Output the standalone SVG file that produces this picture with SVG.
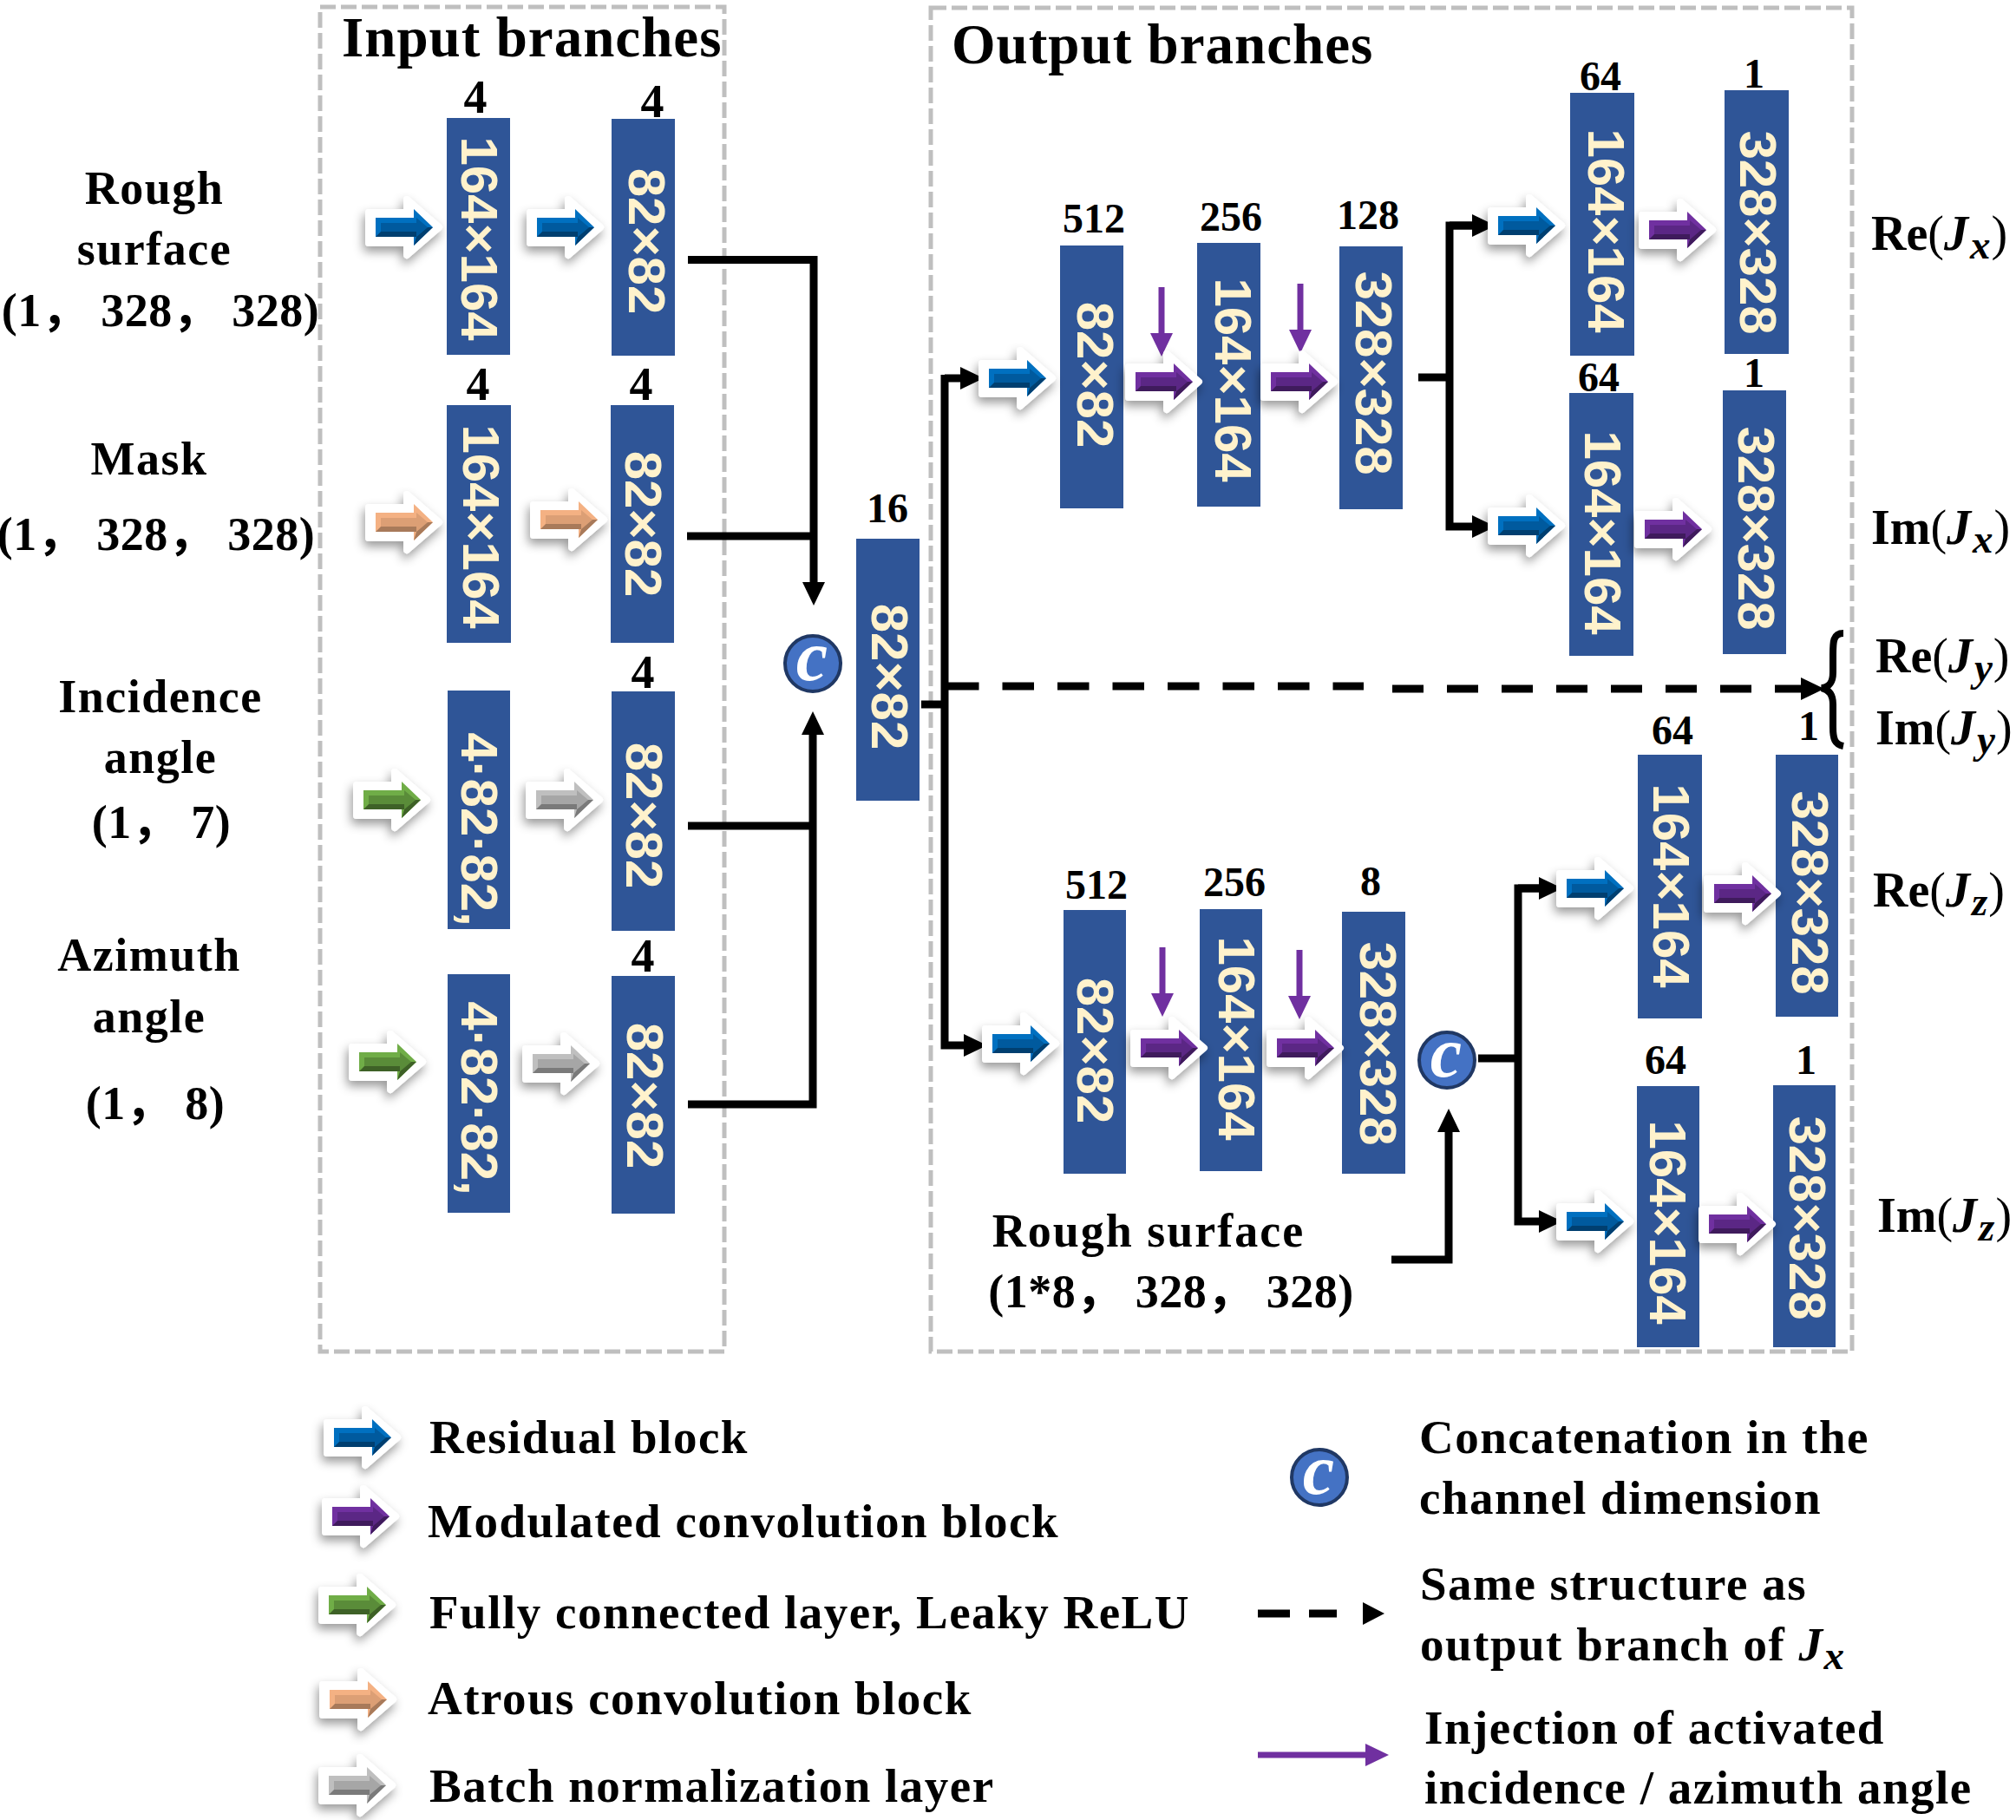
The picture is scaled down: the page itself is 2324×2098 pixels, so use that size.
<svg xmlns="http://www.w3.org/2000/svg" width="2324" height="2098" viewBox="0 0 2324 2098">
<style>
text{font-family:"Liberation Serif","Noto Sans CJK SC",serif;font-weight:700;fill:#000}
.h{font-size:65px;letter-spacing:1px}
.s{font-size:54px;letter-spacing:1.5px;text-anchor:middle}
.cj{font-size:54px;letter-spacing:.5px;text-anchor:middle}
.l{font-size:55px;letter-spacing:1.5px}
.n{font-size:54px;text-anchor:middle}
.m{font-size:48px;text-anchor:middle}
.o{font-size:56px}
.o .i{font-style:italic}
.o .p{font-weight:400}
.o .u{font-style:italic;font-size:47px}
.b{fill:#2f5597}
text.r{font-family:"Liberation Sans",sans-serif;font-size:60px;fill:#fff2cc;text-anchor:middle}
.box{fill:none;stroke:#bfbfbf;stroke-width:5;stroke-dasharray:18 6}
.k{fill:none;stroke:#000;stroke-width:9}
.v{fill:none;stroke:#7030a0;stroke-width:7}
.c{fill:#4472c4;stroke:#203864;stroke-width:4}
text.ct{font-size:82px;font-style:italic;fill:#fff;text-anchor:middle}
</style>
<defs>
<filter id="sh" x="-40%" y="-40%" width="180%" height="180%"><feDropShadow dx="-2" dy="6" stdDeviation="6" flood-color="#000" flood-opacity=".4"/></filter>
<marker id="ah" markerUnits="userSpaceOnUse" markerWidth="28" markerHeight="28" refX="0" refY="14" orient="auto"><path d="M0,1 L27,14 L0,27Z" fill="#000"/></marker>
<marker id="ap" markerUnits="userSpaceOnUse" markerWidth="28" markerHeight="28" refX="0" refY="14" orient="auto"><path d="M0,1 L27,14 L0,27Z" fill="#7030a0"/></marker>
<path id="ab" d="M-40,-17H4V-32L41,0L4,32V18H-40Z" fill="#fff" stroke="#fff" stroke-width="8" stroke-linejoin="round" filter="url(#sh)"/>
<path id="af" d="M-32,-11H12V-21L34,0L12,21V11H-32Z"/>
<path id="am" d="M-26,-5H15V-11L28,0L15,11V5H-26Z"/>
<path id="ad" d="M-32,11L-26,5H15V11ZM12,21L15,11L28,0H34Z"/>
<g id="a-blue"><use href="#ab"/><use href="#af" fill="#0070c0"/><use href="#am" fill="#005a9e"/><use href="#ad" fill="#003f70"/></g>
<g id="a-purple"><use href="#ab"/><use href="#af" fill="#7030a0"/><use href="#am" fill="#5b2785"/><use href="#ad" fill="#3f1b5c"/></g>
<g id="a-green"><use href="#ab"/><use href="#af" fill="#70ad47"/><use href="#am" fill="#5a8c39"/><use href="#ad" fill="#3e6127"/></g>
<g id="a-orange"><use href="#ab"/><use href="#af" fill="#f4b183"/><use href="#am" fill="#dc9f75"/><use href="#ad" fill="#a87a5a"/></g>
<g id="a-gray"><use href="#ab"/><use href="#af" fill="#bfbfbf"/><use href="#am" fill="#a6a6a6"/><use href="#ad" fill="#7a7a7a"/></g>
</defs>
<rect width="2324" height="2098" fill="#fff"/>
<g id="panels">
<rect class="box" x="369" y="8" width="466" height="1550"/>
<rect class="box" x="1073" y="9" width="1062" height="1549"/>
<text class="h" x="394" y="65">Input branches</text>
<text class="h" x="1097" y="73">Output branches</text>
</g>
<g id="connectors">
<path class="k" d="M793,299.500H938V671" marker-end="url(#ah)"/>
<path class="k" d="M792,618H938"/>
<path class="k" d="M793,952H937"/>
<path class="k" d="M793,1273H937V847" marker-end="url(#ah)"/>
<path class="k" d="M1062,812H1089"/>
<path class="k" d="M1089,436H1107" marker-end="url(#ah)"/>
<path class="k" d="M1089,432V1205H1111" marker-end="url(#ah)"/>
<path class="k" stroke-dasharray="36.500 27" style="stroke-width:9" d="M1092,791H1572"/>
<path class="k" stroke-dasharray="36 27" style="stroke-width:9" d="M1605,794H2076" marker-end="url(#ah)"/>
<path class="k" d="M1635,435H1671"/>
<path class="k" d="M1697,260H1671V607H1697" marker-end="url(#ah)"/>
<path class="k" d="M1671,260H1697" marker-end="url(#ah)"/>
<path class="k" d="M1704,1220H1750"/>
<path class="k" d="M1774,1024H1750V1408H1774" marker-end="url(#ah)"/>
<path class="k" d="M1750,1024H1774" marker-end="url(#ah)"/>
<path class="k" d="M1604,1452H1670V1305" marker-end="url(#ah)"/>
<path class="v" d="M1339,331V384" marker-end="url(#ap)"/>
<path class="v" d="M1499,327V380" marker-end="url(#ap)"/>
<path class="v" d="M1340,1092V1145" marker-end="url(#ap)"/>
<path class="v" d="M1498,1095V1148" marker-end="url(#ap)"/>
<path d="M2125,730C2113,730 2113,740 2113,755V775C2113,788 2108,792 2100,793C2108,795 2113,800 2113,812V838C2113,852 2115,858 2125,860" fill="none" stroke="#000" stroke-width="8"/>
</g>
<g id="side-labels">
<text class="s" x="178" y="235">Rough</text><text class="s" x="178" y="305">surface</text><text class="cj" x="185" y="376">(1， 328， 328)</text>
<text class="s" x="172" y="547">Mask</text><text class="cj" x="180" y="634">(1， 328， 328)</text>
<text class="s" x="185" y="821">Incidence</text><text class="s" x="185" y="891">angle</text><text class="cj" x="186" y="966">(1， 7)</text>
<text class="s" x="172" y="1119">Azimuth</text><text class="s" x="172" y="1190">angle</text><text class="cj" x="179" y="1290">(1， 8)</text>
<text class="s" style="letter-spacing:2px" x="1324" y="1437">Rough surface</text><text class="cj" x="1350" y="1507">(1*8， 328， 328)</text>
</g>
<g id="n-rough-1"><rect class="b" x="515" y="136" width="73" height="273"/><text class="r" transform="translate(551,275) rotate(90)" y="19">164×164</text><text class="n" x="548" y="130">4</text></g>
<g id="n-rough-2"><rect class="b" x="705" y="137" width="73" height="273"/><text class="r" transform="translate(744,278) rotate(90)" y="19">82×82</text><text class="n" x="752" y="135">4</text></g>
<g id="n-mask-1"><rect class="b" x="515" y="467" width="74" height="274"/><text class="r" transform="translate(553,607) rotate(90)" y="19">164×164</text><text class="n" x="551" y="461">4</text></g>
<g id="n-mask-2"><rect class="b" x="704" y="467" width="73" height="274"/><text class="r" transform="translate(740,604) rotate(90)" y="19">82×82</text><text class="n" x="739" y="461">4</text></g>
<g id="n-inc-1"><rect class="b" x="516" y="796" width="72" height="275"/><text class="r" transform="translate(551,956) rotate(90)" y="19">4·82·82,</text></g>
<g id="n-inc-2"><rect class="b" x="705" y="797" width="73" height="276"/><text class="r" transform="translate(741,940) rotate(90)" y="19">82×82</text><text class="n" x="741" y="793">4</text></g>
<g id="n-azi-1"><rect class="b" x="516" y="1123" width="72" height="275"/><text class="r" transform="translate(551,1266) rotate(90)" y="19">4·82·82,</text></g>
<g id="n-azi-2"><rect class="b" x="705" y="1125" width="73" height="274"/><text class="r" transform="translate(742,1263) rotate(90)" y="19">82×82</text><text class="n" x="741" y="1120">4</text></g>
<g id="n-concat-in"><circle class="c" cx="937" cy="765" r="32"/><text class="ct" x="936" y="784">c</text></g>
<g id="n-merged"><rect class="b" x="987" y="621" width="73" height="302"/><text class="r" transform="translate(1024,780) rotate(90)" y="19">82×82</text><text class="m" x="1023" y="602">16</text></g>
<g id="n-x-512"><rect class="b" x="1222" y="283" width="73" height="303"/><text class="r" transform="translate(1261,432) rotate(90)" y="19">82×82</text><text class="m" x="1261" y="268">512</text></g>
<g id="n-x-256"><rect class="b" x="1380" y="280" width="73" height="304"/><text class="r" transform="translate(1420,438) rotate(90)" y="19">164×164</text><text class="m" x="1419" y="266">256</text></g>
<g id="n-x-128"><rect class="b" x="1544" y="284" width="73" height="303"/><text class="r" transform="translate(1582,430) rotate(90)" y="19">328×328</text><text class="m" x="1577" y="264">128</text></g>
<g id="n-rex-64"><rect class="b" x="1810" y="107" width="74" height="303"/><text class="r" transform="translate(1850,266) rotate(90)" y="19">164×164</text><text class="m" x="1845" y="104">64</text></g>
<g id="n-rex-1"><rect class="b" x="1988" y="104" width="74" height="304"/><text class="r" transform="translate(2025,268) rotate(90)" y="19">328×328</text><text class="m" x="2022" y="101">1</text></g>
<g id="n-imx-64"><rect class="b" x="1809" y="453" width="74" height="303"/><text class="r" transform="translate(1846,614) rotate(90)" y="19">164×164</text><text class="m" x="1843" y="451">64</text></g>
<g id="n-imx-1"><rect class="b" x="1986" y="450" width="73" height="304"/><text class="r" transform="translate(2023,609) rotate(90)" y="19">328×328</text><text class="m" x="2022" y="446">1</text></g>
<g id="n-z-512"><rect class="b" x="1226" y="1049" width="72" height="304"/><text class="r" transform="translate(1261,1211) rotate(90)" y="19">82×82</text><text class="m" x="1264" y="1036">512</text></g>
<g id="n-z-256"><rect class="b" x="1383" y="1048" width="72" height="302"/><text class="r" transform="translate(1424,1197) rotate(90)" y="19">164×164</text><text class="m" x="1423" y="1033">256</text></g>
<g id="n-z-8"><rect class="b" x="1547" y="1051" width="73" height="302"/><text class="r" transform="translate(1587,1203) rotate(90)" y="19">328×328</text><text class="m" x="1580" y="1032">8</text></g>
<g id="n-concat-z"><circle class="c" cx="1668" cy="1222" r="32"/><text class="ct" x="1667" y="1241">c</text></g>
<g id="n-rez-64"><rect class="b" x="1888" y="870" width="74" height="304"/><text class="r" transform="translate(1925,1021) rotate(90)" y="19">164×164</text><text class="m" x="1928" y="858">64</text></g>
<g id="n-rez-1"><rect class="b" x="2047" y="870" width="72" height="302"/><text class="r" transform="translate(2085,1029) rotate(90)" y="19">328×328</text><text class="m" x="2085" y="853">1</text></g>
<g id="n-imz-64"><rect class="b" x="1887" y="1252" width="72" height="301"/><text class="r" transform="translate(1921,1409) rotate(90)" y="19">164×164</text><text class="m" x="1920" y="1238">64</text></g>
<g id="n-imz-1"><rect class="b" x="2044" y="1251" width="72" height="302"/><text class="r" transform="translate(2082,1404) rotate(90)" y="19">328×328</text><text class="m" x="2082" y="1238">1</text></g>
<g id="block-arrows">
<use href="#a-blue" x="465" y="262"/><use href="#a-blue" x="651" y="262"/>
<use href="#a-orange" x="465" y="602"/><use href="#a-orange" x="655" y="599"/>
<use href="#a-green" x="451" y="922"/><use href="#a-gray" x="650" y="922"/>
<use href="#a-green" x="446" y="1224"/><use href="#a-gray" x="646" y="1226"/>
<use href="#a-blue" x="1172" y="436"/><use href="#a-purple" x="1341" y="440"/><use href="#a-purple" x="1497" y="440"/>
<use href="#a-blue" x="1759" y="260"/><use href="#a-purple" x="1933" y="265"/>
<use href="#a-blue" x="1759" y="606"/><use href="#a-purple" x="1928" y="610"/>
<use href="#a-blue" x="1176" y="1203"/><use href="#a-purple" x="1347" y="1208"/><use href="#a-purple" x="1504" y="1208"/>
<use href="#a-blue" x="1838" y="1024"/><use href="#a-purple" x="2008" y="1030"/>
<use href="#a-blue" x="1838" y="1408"/><use href="#a-purple" x="2002" y="1411"/>
</g>
<g id="outputs">
<text class="o" x="2157" y="288">Re<tspan class="p">(</tspan><tspan class="i">J</tspan><tspan class="u" dx="2" dy="10">x</tspan><tspan class="p" dx="1" dy="-10">)</tspan></text>
<text class="o" x="2157" y="627">Im<tspan class="p">(</tspan><tspan class="i">J</tspan><tspan class="u" dx="2" dy="10">x</tspan><tspan class="p" dx="1" dy="-10">)</tspan></text>
<text class="o" x="2162" y="775">Re<tspan class="p">(</tspan><tspan class="i">J</tspan><tspan class="u" dx="2" dy="10">y</tspan><tspan class="p" dx="1" dy="-10">)</tspan></text>
<text class="o" x="2162" y="858">Im<tspan class="p">(</tspan><tspan class="i">J</tspan><tspan class="u" dx="2" dy="10">y</tspan><tspan class="p" dx="1" dy="-10">)</tspan></text>
<text class="o" x="2159" y="1045">Re<tspan class="p">(</tspan><tspan class="i">J</tspan><tspan class="u" dx="2" dy="10">z</tspan><tspan class="p" dx="1" dy="-10">)</tspan></text>
<text class="o" x="2164" y="1420">Im<tspan class="p">(</tspan><tspan class="i">J</tspan><tspan class="u" dx="2" dy="10">z</tspan><tspan class="p" dx="1" dy="-10">)</tspan></text>
</g>
<g id="legend">
<use href="#a-blue" x="417" y="1657"/><text class="l" x="495" y="1675">Residual block</text>
<use href="#a-purple" x="415" y="1748"/><text class="l" x="493" y="1772">Modulated convolution block</text>
<use href="#a-green" x="411" y="1850"/><text class="l" x="495" y="1877">Fully connected layer, Leaky ReLU</text>
<use href="#a-orange" x="412" y="1959"/><text class="l" x="493" y="1976">Atrous convolution block</text>
<use href="#a-gray" x="411" y="2058"/><text class="l" x="495" y="2077">Batch normalization layer</text>
<circle class="c" cx="1521" cy="1703" r="32"/><text class="ct" x="1520" y="1722">c</text>
<text class="l" x="1636" y="1675">Concatenation in the</text>
<text class="l" x="1636" y="1745">channel dimension</text>
<path class="k" d="M1450,1860H1487M1509,1860H1541"/><path d="M1571,1847L1596,1860L1571,1873Z" fill="#000"/>
<text class="l" x="1637" y="1844">Same structure as</text>
<text class="l" x="1637" y="1914">output branch of <tspan font-style="italic">J</tspan><tspan font-style="italic" font-size="47" dy="10">x</tspan></text>
<path class="v" d="M1450,2023H1574" marker-end="url(#ap)"/>
<text class="l" x="1642" y="2010">Injection of activated</text>
<text class="l" x="1642" y="2079">incidence / azimuth angle</text>
</g>
</svg>
